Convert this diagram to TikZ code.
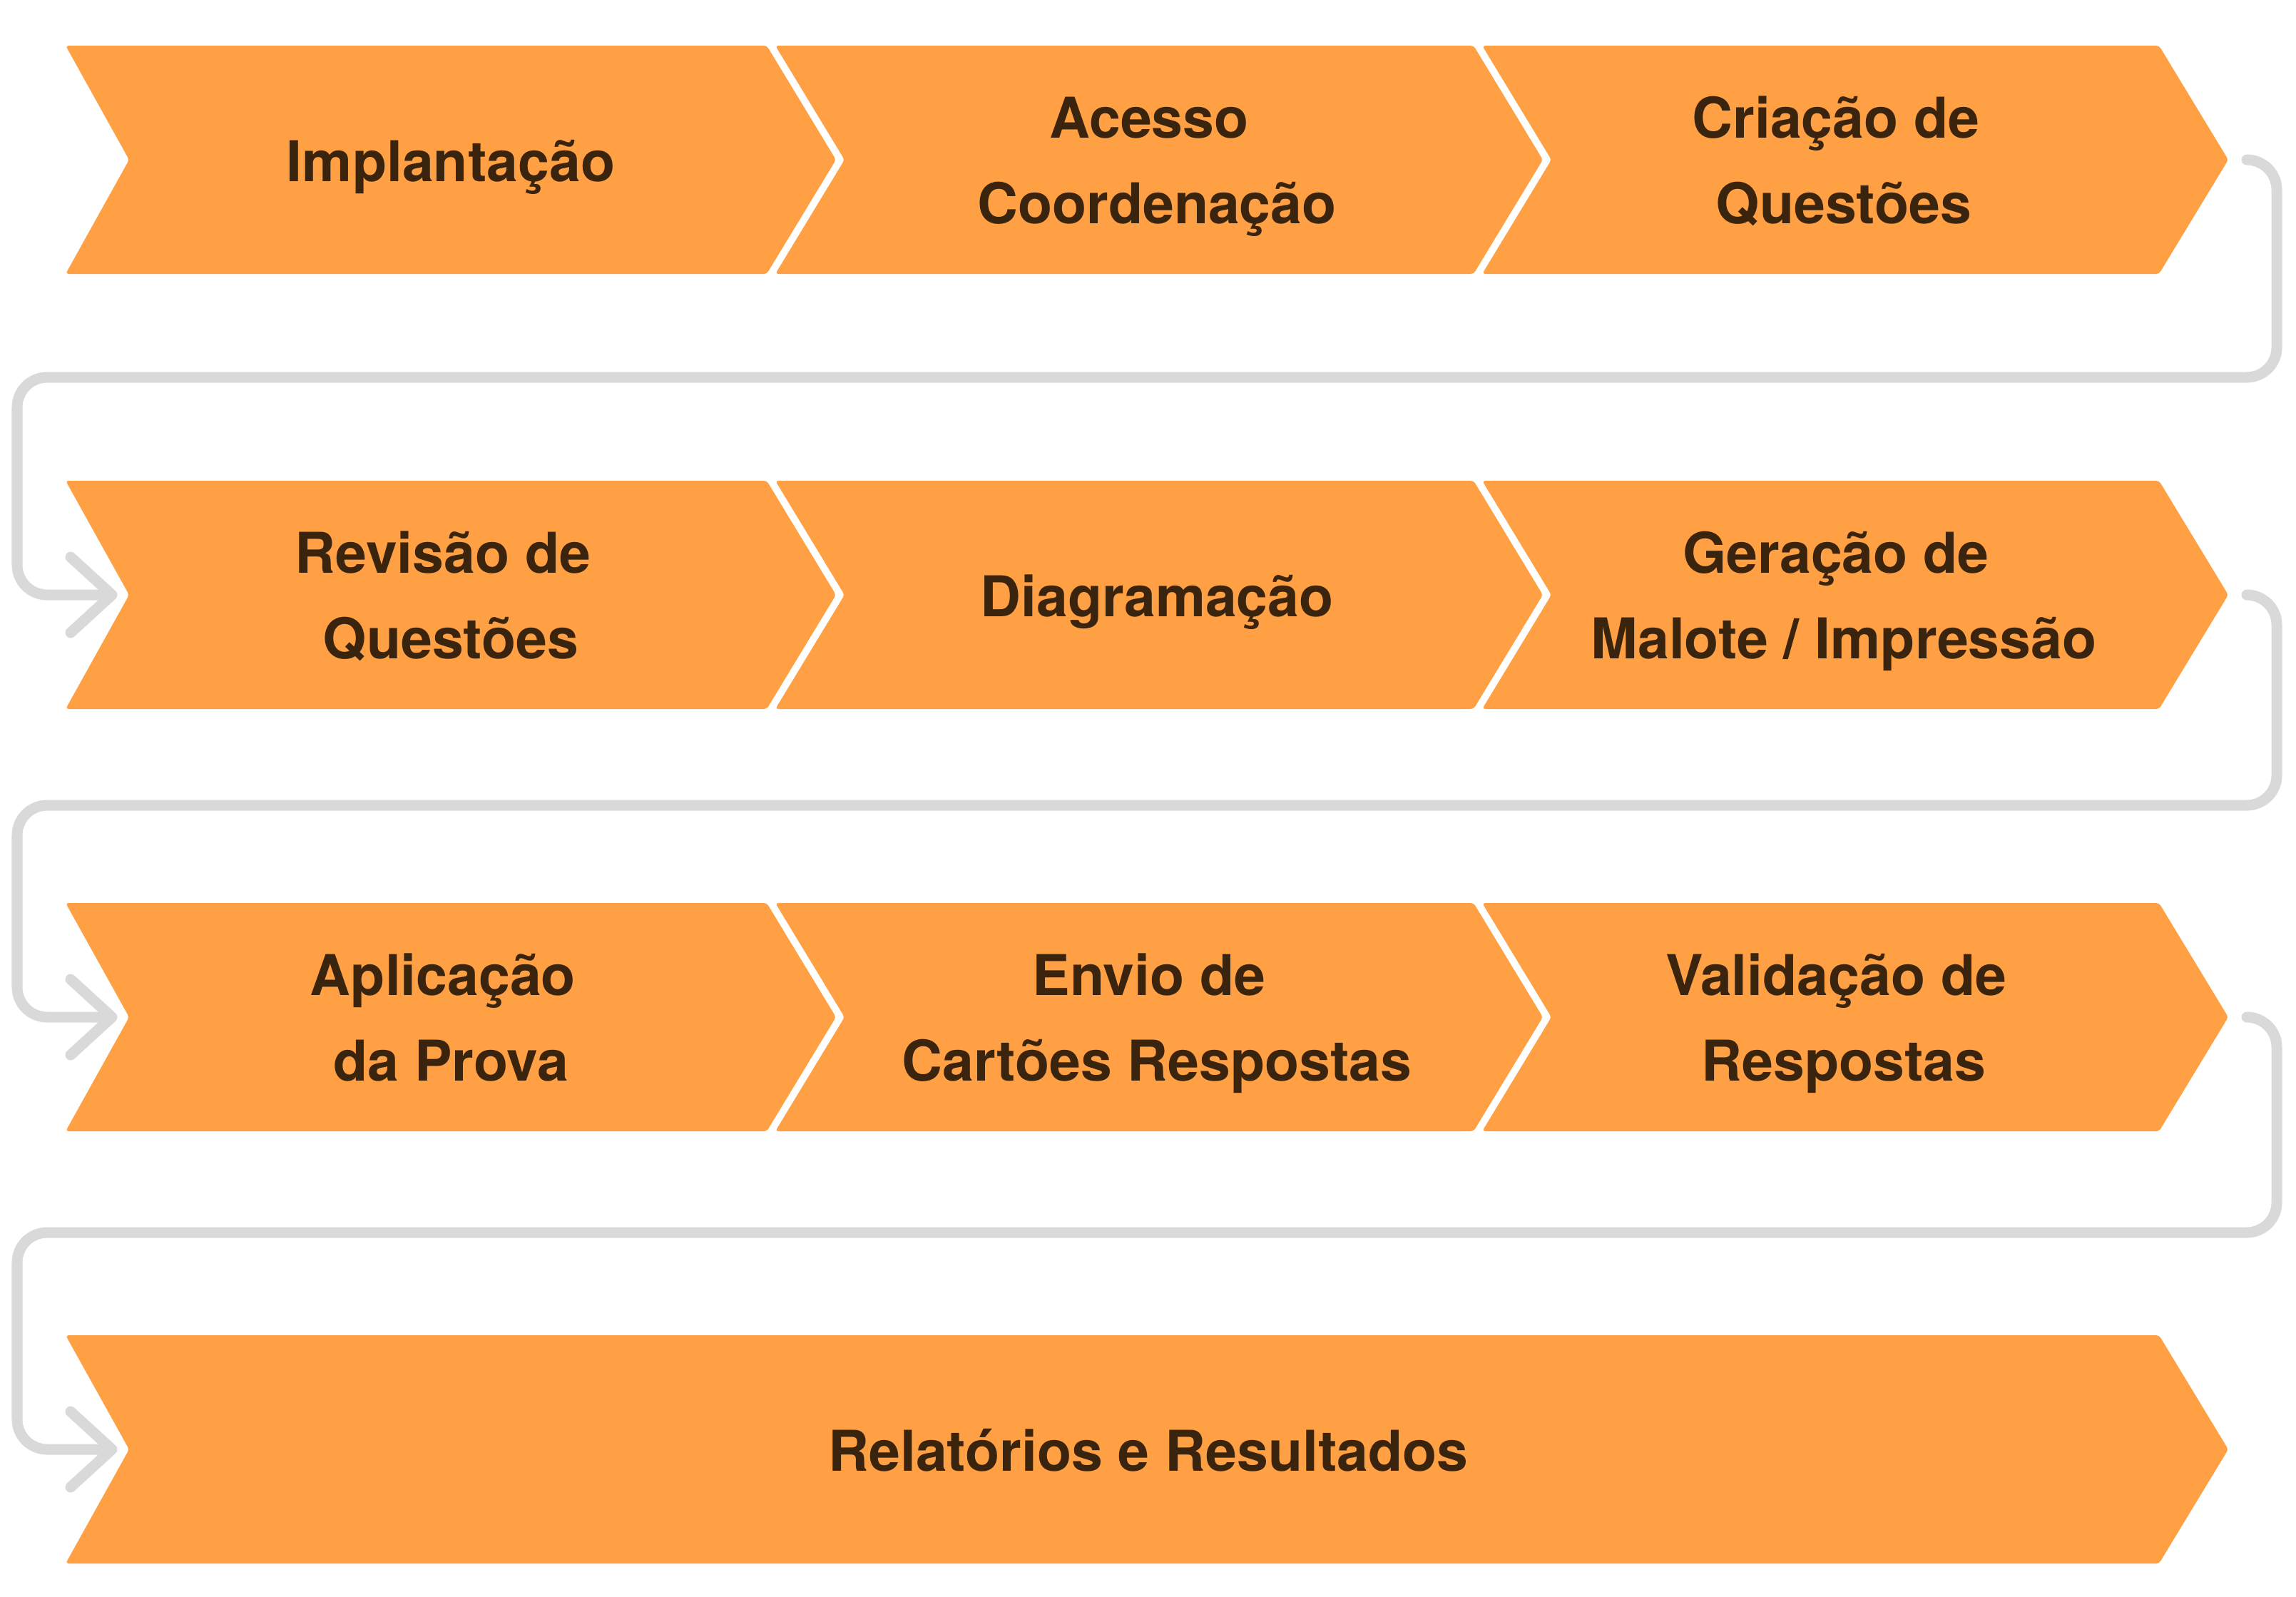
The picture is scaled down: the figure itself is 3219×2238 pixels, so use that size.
\documentclass[tikz,border=0pt]{standalone}
\usepackage{fontspec}
\setmainfont{TeX Gyre Heros}
\definecolor{chevorange}{RGB}{255,160,68}
\definecolor{txtbrown}{RGB}{58,36,14}
\definecolor{conngray}{RGB}{217,217,217}
\newcommand\mychev[4]{% #1 left x, #2 notch depth, #3 top-right corner x, #4 centre y
  \fill[chevfill] (#1,#4-160) -- (#3,#4-160) -- (#3+97,#4) -- (#3,#4+160) -- (#1,#4+160) -- (#1+#2,#4) -- cycle;}
\begin{document}
\begin{tikzpicture}[x=0.01cm,y=-0.01cm,
  chevfill/.style={fill=chevorange, rounded corners=0.04cm},
  lbl/.style={font=\fontsize{22.4pt}{34.14pt}\selectfont\bfseries, text=txtbrown, align=center, anchor=base, inner sep=0pt},
  conn/.style={draw=conngray, line width=0.15cm, line cap=round, line join=round},
  connpath/.style={conn, rounded corners=0.42cm}]
\useasboundingbox (0,0) rectangle (3219,2238);

% connector end points
\coordinate (o1) at (3150,224);
\coordinate (i2) at (157,834);
\coordinate (o2) at (3150,834);
\coordinate (i3) at (157,1426);
\coordinate (o3) at (3150,1426);
\coordinate (i4) at (157,2032);

% connectors
\draw[connpath] (o1) -- (3192,224) -- (3192,529) -- (24,529) -- (24,834) -- ([xshift=-0.07cm]i2);
\draw[conn] ([shift={(-58,-53)}]i2) -- (i2) -- ([shift={(-58,53)}]i2);
\draw[connpath] (o2) -- (3192,834) -- (3192,1129) -- (24,1129) -- (24,1426) -- ([xshift=-0.07cm]i3);
\draw[conn] ([shift={(-58,-53)}]i3) -- (i3) -- ([shift={(-58,53)}]i3);
\draw[connpath] (o3) -- (3192,1426) -- (3192,1728) -- (24,1728) -- (24,2032) -- ([xshift=-0.07cm]i4);
\draw[conn] ([shift={(-58,-53)}]i4) -- (i4) -- ([shift={(-58,53)}]i4);

% chevrons
\mychev{92}{89}{1075}{224}
\mychev{1087}{97}{2066}{224}
\mychev{2078}{97}{3027}{224}
\mychev{92}{89}{1075}{834}
\mychev{1087}{97}{2066}{834}
\mychev{2078}{97}{3027}{834}
\mychev{92}{89}{1075}{1426}
\mychev{1087}{97}{2066}{1426}
\mychev{2078}{97}{3027}{1426}
\mychev{92}{89}{3027}{2032}

% labels (anchor base = baseline of the last line)
\node[lbl] (n1) at (632,254) {Implantação};
\node[lbl] (n2) at (1622,313.5) {Acesso\kern.278em\\Coordenação};
\node[lbl] (n3) at (2585,313.5) {Criação de\kern.278em\\Questões};
\node[lbl] (n4) at (632,923.5) {Revisão de\kern.278em\\Questões};
\node[lbl] (n5) at (1622,864) {Diagramação};
\node[lbl] (n6) at (2585,923.5) {Geração de\kern.278em\\Malote / Impressão};
\node[lbl] (n7) at (632,1515.5) {Aplicação\kern.278em\\da Prova};
\node[lbl] (n8) at (1622,1515.5) {Envio de\kern.278em\\Cartões Respostas};
\node[lbl] (n9) at (2585,1515.5) {Validação de\kern.278em\\Respostas};
\node[lbl] (n10) at (1610,2062) {Relatórios e Resultados};
\end{tikzpicture}
\end{document}
